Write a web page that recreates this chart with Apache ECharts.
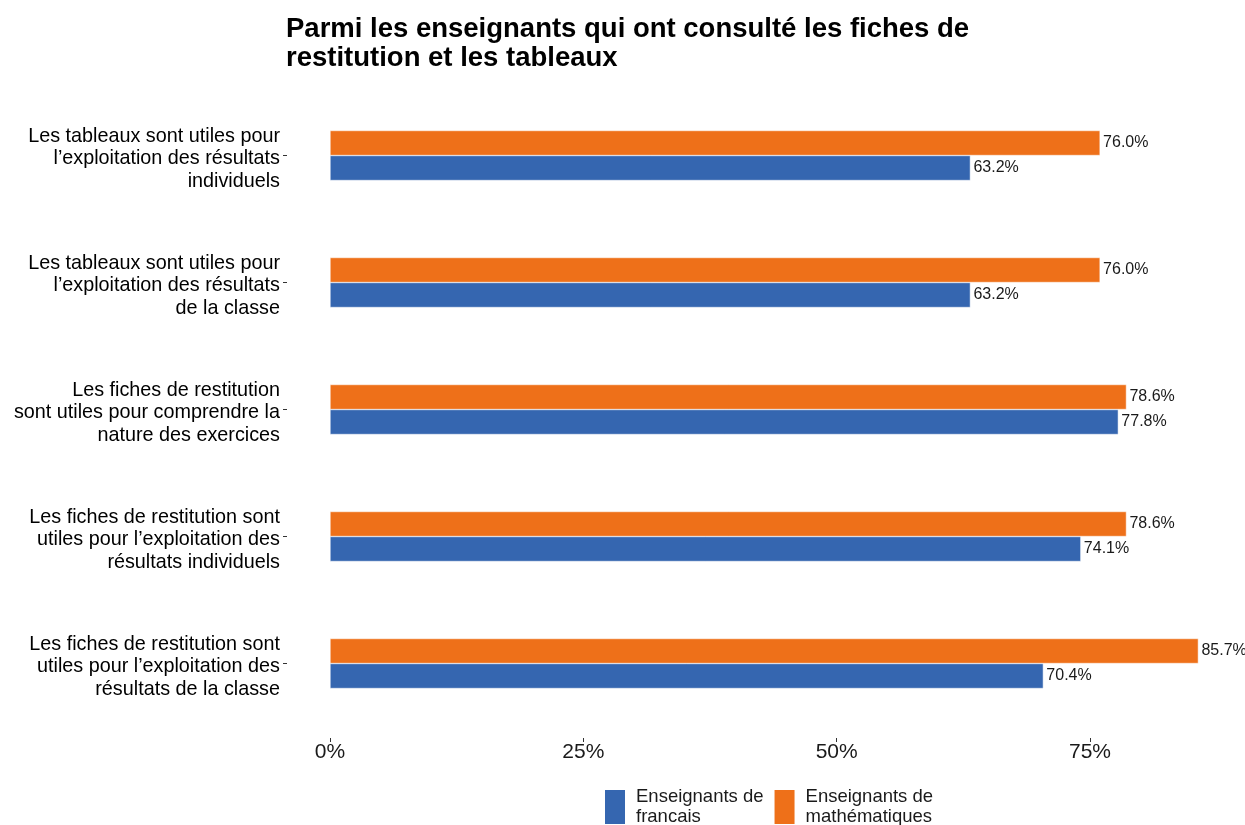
<!DOCTYPE html>
<html>
<head>
<meta charset="utf-8">
<script src="https://cdn.jsdelivr.net/npm/echarts@6/dist/echarts.min.js"></script>
<style>
  html, body { margin: 0; padding: 0; background: #fff; }
  #main { width: 1245px; height: 825px; }
</style>
</head>
<body>
<div id="main"></div>
<script>
// categories, top to bottom
const categories = [
  'Les tableaux sont utiles pour\nl’exploitation des résultats\nindividuels',
  'Les tableaux sont utiles pour\nl’exploitation des résultats\nde la classe',
  'Les fiches de restitution\nsont utiles pour comprendre la\nnature des exercices',
  'Les fiches de restitution sont\nutiles pour l’exploitation des\nrésultats individuels',
  'Les fiches de restitution sont\nutiles pour l’exploitation des\nrésultats de la classe'
]
const francais = [63.2, 63.2, 77.8, 74.1, 70.4]
const maths = [76.0, 76.0, 78.6, 78.6, 85.7]
const seriesNames = ['Enseignants de francais', 'Enseignants de mathématiques']
const xTicks = [0, 25, 50, 75]

const font = 'Liberation Sans, Arial, sans-serif'

const myChart = echarts.init(document.getElementById('main'))
myChart.setOption({
  animation: false,
  textStyle: { fontFamily: font },
  title: {
    text: 'Parmi les enseignants qui ont consulté les fiches de\nrestitution et les tableaux',
    left: 286,
    top: 15,
    padding: 0,
    textStyle: { fontSize: 27.5, fontWeight: 'bold', color: '#000', lineHeight: 29, fontFamily: font }
  },
  legend: {
    data: seriesNames,
    top: 787,
    left: 603,
    padding: 0,
    itemWidth: 22,
    itemHeight: 36,
    itemGap: 9,
    icon: 'rect',
    formatter: name => name.replace('de ', 'de\n'),
    textStyle: { fontSize: 18.5, color: '#1a1a1a', lineHeight: 20, padding: [0, 0, 0, 5], fontFamily: font }
  },
  grid: [
    // bars
    { left: 330, right: 0, top: 92, bottom: 98, containLabel: false },
    // category labels and their ticks, ggplot-style panel edge
    { left: 287, width: 43, top: 92, bottom: 98, containLabel: false }
  ],
  xAxis: [
    {
      type: 'value',
      gridIndex: 0,
      min: 0,
      max: 90.3,
      interval: 25,
      offset: 11,
      axisLine: { show: false },
      splitLine: { show: false },
      axisTick: { show: true, length: 4, lineStyle: { color: '#333' } },
      axisLabel: {
        showMaxLabel: false,
        margin: 4,
        fontSize: 21,
        color: '#1a1a1a',
        formatter: v => (xTicks.indexOf(v) >= 0 ? v + '%' : '')
      }
    },
    { type: 'value', gridIndex: 1, show: false }
  ],
  yAxis: [
    {
      type: 'category',
      gridIndex: 0,
      inverse: true,
      data: categories,
      axisLine: { show: false },
      axisTick: { show: false },
      axisLabel: { show: false }
    },
    {
      type: 'category',
      gridIndex: 1,
      inverse: true,
      data: categories,
      axisLine: { show: false },
      splitLine: { show: false },
      axisTick: { show: true, length: 4, alignWithLabel: true, lineStyle: { color: '#333' } },
      axisLabel: {
        margin: 7,
        align: 'right',
        // small spacer line on top pushes the 3 lines down a little
        formatter: v => '{s| }\n' + v.split('\n').map(l => '{t|' + l + '}').join('\n'),
        rich: {
          s: { fontSize: 4, lineHeight: 7, align: 'right' },
          t: { fontSize: 19.8, lineHeight: 22.5, color: '#000', align: 'right', fontFamily: font }
        }
      }
    }
  ],
  series: [
    {
      name: seriesNames[1],
      type: 'bar',
      xAxisIndex: 0,
      yAxisIndex: 0,
      data: maths,
      barWidth: 25,
      barGap: '0%',
      itemStyle: { color: '#EE7019', borderColor: '#fff', borderWidth: 0.5 },
      label: {
        show: true,
        position: 'right',
        distance: 3,
        fontSize: 16,
        color: '#1a1a1a',
        formatter: p => p.value.toFixed(1) + '%'
      }
    },
    {
      name: seriesNames[0],
      type: 'bar',
      xAxisIndex: 0,
      yAxisIndex: 0,
      data: francais,
      barWidth: 25,
      barGap: '0%',
      itemStyle: { color: '#3566B0', borderColor: '#fff', borderWidth: 0.5 },
      label: {
        show: true,
        position: 'right',
        distance: 3,
        fontSize: 16,
        color: '#1a1a1a',
        formatter: p => p.value.toFixed(1) + '%'
      }
    }
  ]
})
</script>
</body>
</html>
